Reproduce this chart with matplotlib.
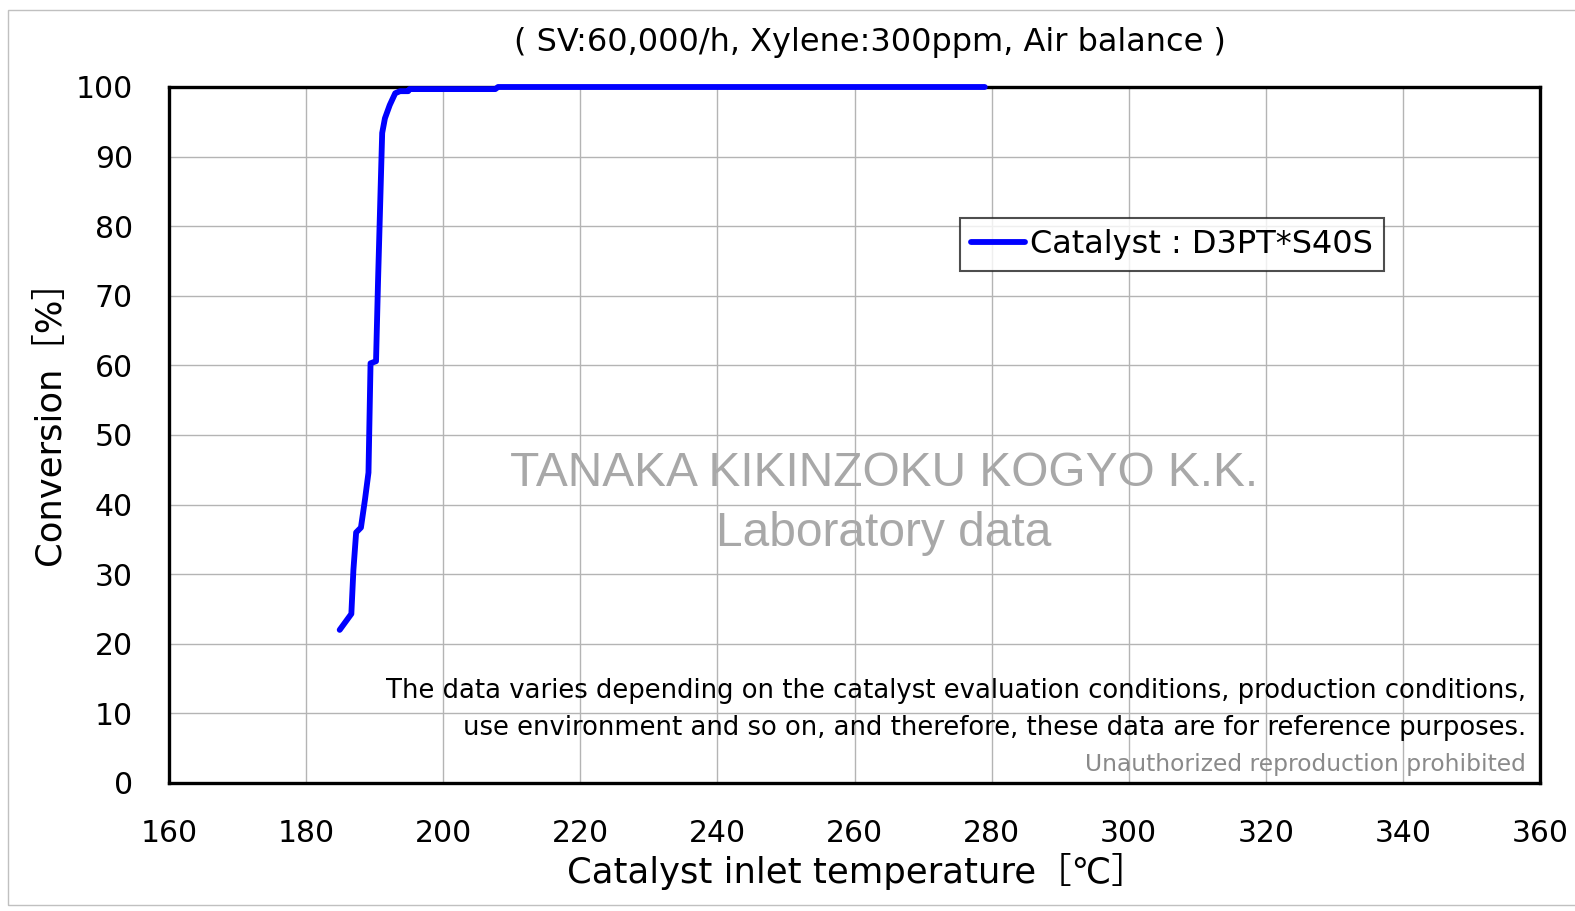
import matplotlib
matplotlib.use("Agg")
import matplotlib.pyplot as plt
from matplotlib.patches import Rectangle

plt.rcParams["font.family"] = ["DejaVu Sans", "Noto Sans CJK JP"]

# ---- data ----
temperature = [184.9, 186.6, 186.9, 187.3, 188.0, 188.6, 189.1, 189.4, 190.2, 190.5,
               191.0, 191.1, 191.5, 192.2, 193.0, 193.7, 194.9, 195.1, 207.6, 208.0, 279.0]
conversion = [22.0, 24.3, 30.6, 36.0, 36.7, 40.8, 44.6, 60.3, 60.6, 72.3,
              90.0, 93.4, 95.5, 97.4, 99.1, 99.4, 99.4, 99.7, 99.7, 100.0, 100.0]
x_ticks = list(range(160, 361, 20))
y_ticks = list(range(0, 101, 10))
series_name = "Catalyst : D3PT*S40S"

W, H = 1575, 911
fig = plt.figure(figsize=(W / 100, H / 100), dpi=100)
ax = fig.add_axes([169 / W, 1 - 783 / H, (1540 - 169) / W, (783 - 87) / H])

ax.plot(temperature, conversion, color="#0000ff", lw=4.2, label=series_name,
        clip_on=False, zorder=4, solid_joinstyle="round", solid_capstyle="round")

ax.set_xlim(160, 360)
ax.set_ylim(0, 100)
ax.set_xticks(x_ticks)
ax.set_yticks(y_ticks)
ax.tick_params(axis="both", length=0, labelsize=21.5)
ax.tick_params(axis="y", pad=26)
ax.tick_params(axis="x", pad=26)
ax.grid(True, color="#b4b4b4", lw=1.0)
ax.set_axisbelow(True)
for s in ax.spines.values():
    s.set_linewidth(2.4)
    s.set_color("black")

leg = ax.legend(loc="upper left", bbox_to_anchor=((960 - 169) / 1371, (783 - 218) / 696),
                fontsize=23, frameon=True, fancybox=False, handlelength=1.7,
                handletextpad=0.15, borderpad=0.35, borderaxespad=0)
leg.get_frame().set_edgecolor("#222222")
leg.get_frame().set_linewidth(1.5)

# watermark
fig.text(884 / W, 1 - 473 / H, "TANAKA KIKINZOKU KOGYO K.K.", ha="center", va="center",
         fontsize=34.5, color="#a8a8a8", family="Liberation Sans")
fig.text(884 / W, 1 - 533 / H, "Laboratory data", ha="center", va="center",
         fontsize=34.5, color="#a8a8a8", family="Liberation Sans")

# notes
fig.text(1526 / W, 1 - 691 / H,
         "The data varies depending on the catalyst evaluation conditions, production conditions,",
         ha="right", va="center", fontsize=18.6, color="black")
fig.text(1526 / W, 1 - 728 / H,
         "use environment and so on, and therefore, these data are for reference purposes.",
         ha="right", va="center", fontsize=18.6, color="black")
fig.text(1526 / W, 1 - 764 / H, "Unauthorized reproduction prohibited",
         ha="right", va="center", fontsize=16.8, color="#8a8a8a")

# titles and axis labels
fig.text(870 / W, 1 - 42 / H, "( SV:60,000/h, Xylene:300ppm, Air balance )",
         ha="center", va="center", fontsize=23)
fig.text(857 / W, 1 - 872 / H, "Catalyst inlet temperature［℃］",
         ha="center", va="center", fontsize=25.5)
fig.text(50 / W, 1 - 414 / H, "Conversion［%］", ha="center", va="center",
         rotation=90, fontsize=25.5)

# outer frame
fig.patches.append(Rectangle((8 / W, 1 - 905 / H), 1.0, (905 - 10) / H,
                             transform=fig.transFigure, fill=False,
                             edgecolor="#c0c0c0", lw=1.0))

plt.savefig("out.png", dpi=100)
plt.close()
